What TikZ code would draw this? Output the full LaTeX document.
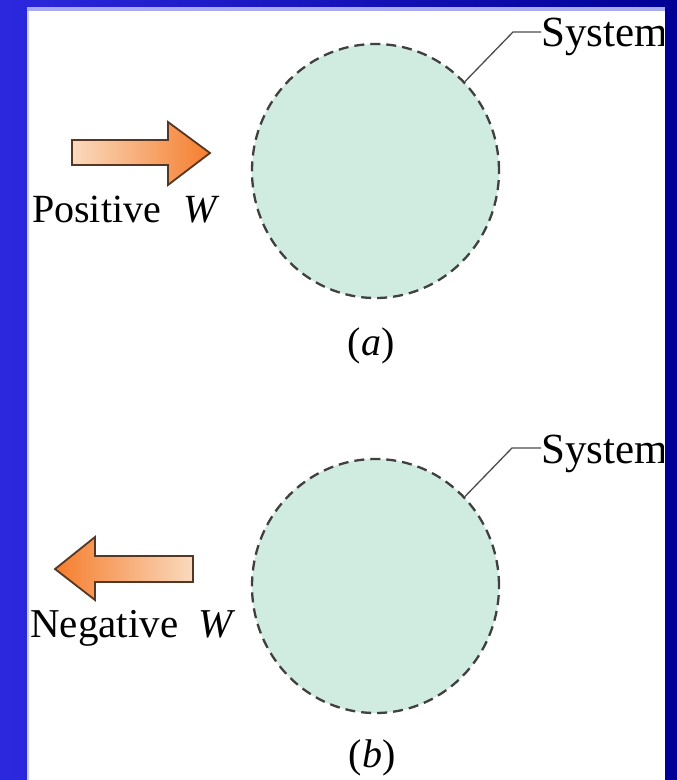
\documentclass[tikz,border=0pt]{standalone}
\usepackage{fontspec}
\setmainfont{Liberation Serif}
\usetikzlibrary{shapes.geometric}
\definecolor{bgbright}{RGB}{44,40,222}
\definecolor{bgdark}{RGB}{0,0,150}
\definecolor{panedge}{RGB}{170,170,240}
\definecolor{mint}{RGB}{208,235,223}
\definecolor{pale}{RGB}{250,218,190}
\definecolor{orng}{RGB}{245,125,45}
\definecolor{brwn}{RGB}{85,55,35}
\begin{document}
\begin{tikzpicture}[x=1pt,y=-1pt,
  sysbox/.style={ellipse, draw=black!75, dash pattern=on 10pt off 6pt, line width=2.3pt, fill=mint, minimum width=247pt, minimum height=254pt, inner sep=0pt},
  lbl/.style={font=\fontsize{40}{42}\selectfont, inner sep=0pt},
  syslbl/.style={font=\fontsize{43}{45}\selectfont, inner sep=0pt},
  caplbl/.style={font=\fontsize{40}{42}\selectfont, inner sep=0pt},
  leader/.style={draw=black!70, line width=1.3pt},
  warrow/.style={draw=brwn, line width=1.8pt, line join=miter}]
\useasboundingbox (0,0) rectangle (677,780);
\shade[left color=bgbright, right color=bgdark] (0,0) rectangle (677,780);
\fill[white] (27,7) rectangle (665,780);
\fill[panedge] (27,7) rectangle (665,11);
\fill[panedge!60] (27,11) rectangle (29,780);

\begin{scope}
\clip (27,7) rectangle (663,780);
% (a)
\node[sysbox] (circA) at (375.5,171) {};
\node[syslbl, anchor=base west] (sysA) at (541,46) {System};
\coordinate (kneeA) at (513,32);
\draw[leader] (circA.45) -- (kneeA) -- (kneeA -| sysA.west) ++(-4,0) coordinate (endA);
\node[lbl, anchor=base west] (posW) at (32,222) {Positive\hspace{22pt}\textit{W}};
\node[caplbl] (capA) at (371,346) {(\textit{a})};
% (b)
\node[sysbox] (circB) at (375.5,586) {};
\node[syslbl, anchor=base west] (sysB) at (541,463) {System};
\coordinate (kneeB) at (512,448);
\draw[leader] (circB.45) -- (kneeB) -- (kneeB -| sysB.west) ++(-4,0) coordinate (endB);
\node[lbl, anchor=base west, font=\fontsize{41}{43}\selectfont] (negW) at (30,637) {Negative\hspace{20pt}\textit{W}};
\node[caplbl] (capB) at (372,758) {(\textit{b})};
\end{scope}

% arrows
\shadedraw[warrow, left color=pale, right color=orng]
  (72,140) -- (168,140) -- (168,122) -- (210,153) -- (168,185) -- (168,165) -- (72,165) -- cycle;
\shadedraw[warrow, left color=orng, right color=pale]
  (55,569) -- (95,537) -- (95,556) -- (193,556) -- (193,582) -- (95,582) -- (95,600) -- cycle;
\end{tikzpicture}
\end{document}
